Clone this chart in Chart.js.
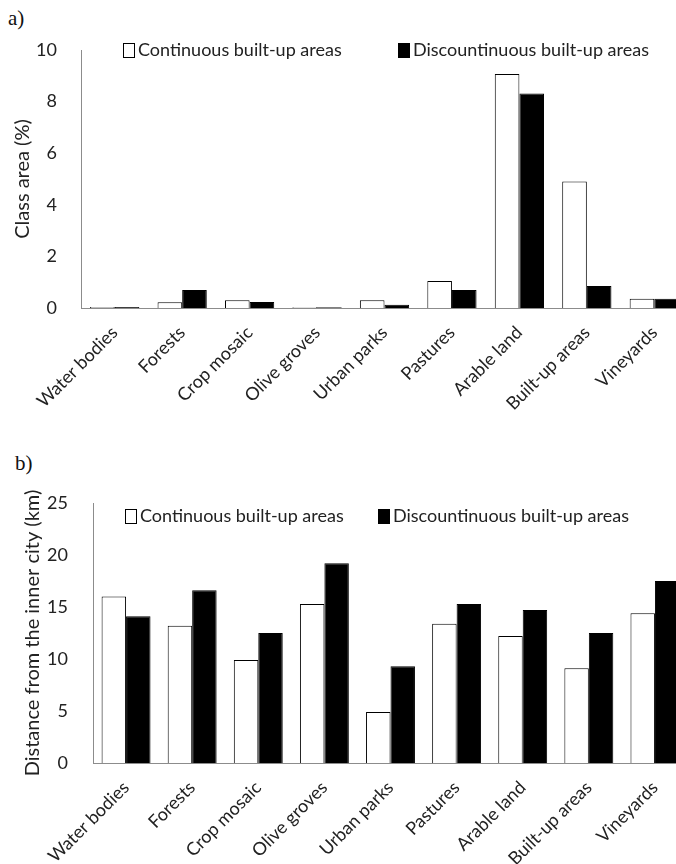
<!DOCTYPE html>
<html>
<head>
<meta charset="utf-8">
<script src="https://cdn.jsdelivr.net/npm/chart.js@4.4.1/dist/chart.umd.min.js"></script>
<style>
  html, body { margin: 0; padding: 0; background: #fff; overflow: hidden; }
  body { width: 676px; height: 864px; position: relative; }
  .panel { position: absolute; left: 0; }
  .tag { position: absolute; font-family: "Liberation Serif", serif; font-size: 21px; color: #111; line-height: 1; }
</style>
</head>
<body>
<div class="tag" style="left:8px;top:8px">a)</div>
<div class="panel" style="top:0"><canvas id="chartA" width="690" height="420"></canvas></div>
<div class="tag" style="left:15px;top:453px">b)</div>
<div class="panel" style="top:420px"><canvas id="chartB" width="690" height="444"></canvas></div>
<script>
// land cover classes
const categories = ['Water bodies', 'Forests', 'Crop mosaic', 'Olive groves', 'Urban parks',
  'Pastures', 'Arable land', 'Built-up areas', 'Vineyards'];
const seriesNames = ['Continuous built-up areas', 'Discountinuous built-up areas'];

// a) class area (%)
const areaContinuous = [0.04, 0.22, 0.30, 0.03, 0.30, 1.05, 9.07, 4.90, 0.36];
const areaDiscontinuous = [0.04, 0.70, 0.23, 0.03, 0.13, 0.70, 8.31, 0.85, 0.36];
const areaTicks = [0, 2, 4, 6, 8, 10];

// b) distance from the inner city (km)
const distContinuous = [16.0, 13.2, 9.9, 15.3, 4.9, 13.4, 12.2, 9.1, 14.4];
const distDiscontinuous = [14.1, 16.6, 12.5, 19.2, 9.3, 15.3, 14.7, 12.5, 17.5];
const distTicks = [0, 5, 10, 15, 20, 25];

const FONT = 'Lato, "Open Sans", sans-serif';
const TEXT = '#222';

// legend drawn inside the plot area, like the original
const insideLegend = {
  id: 'insideLegend',
  afterDraw(chart, args, opts) {
    const ctx = chart.ctx;
    const area = chart.chartArea;
    ctx.save();
    ctx.font = '18px ' + FONT;
    ctx.textBaseline = 'middle';
    const y = area.top + opts.offsetY;
    chart.data.datasets.forEach((ds, i) => {
      const x = area.left + opts.itemX[i];
      ctx.fillStyle = ds.backgroundColor;
      ctx.fillRect(x, y - 7, 12, 15);
      ctx.strokeStyle = '#000';
      ctx.lineWidth = 1;
      ctx.strokeRect(x + 0.5, y - 6.5, 11, 14);
      ctx.fillStyle = TEXT;
      ctx.fillText(ds.label, x + 15, y);
    });
    ctx.restore();
  }
};

function makeChart(id, cont, disc, ticks, title, geo) {
  return new Chart(document.getElementById(id), {
    type: 'bar',
    data: {
      labels: categories,
      datasets: [
        { label: seriesNames[0], data: cont, backgroundColor: '#ffffff', borderColor: '#000', borderWidth: 1 },
        { label: seriesNames[1], data: disc, backgroundColor: '#000000', borderColor: '#000', borderWidth: 1 }
      ]
    },
    options: {
      responsive: false,
      animation: false,
      layout: { padding: { top: geo.top, right: 2, left: 0, bottom: 0 } },
      datasets: { bar: { categoryPercentage: geo.cat, barPercentage: 1 } },
      plugins: {
        legend: { display: false },
        tooltip: { enabled: false },
        insideLegend: { offsetY: geo.legendY, itemX: geo.legendX }
      },
      scales: {
        x: {
          grid: { display: false },
          border: { display: true, color: '#8c8c8c', width: 1 },
          ticks: {
            minRotation: 45, maxRotation: 45, padding: 6,
            color: TEXT, font: { family: FONT, size: 18 }
          },
          afterFit(scale) { scale.height = geo.xHeight; }
        },
        y: {
          min: ticks[0], max: ticks[ticks.length - 1],
          afterBuildTicks(scale) { scale.ticks = ticks.map(v => ({ value: v })); },
          grid: { display: false },
          border: { display: true, color: '#8c8c8c', width: 1 },
          ticks: { padding: geo.tickPad, color: TEXT, font: { family: FONT, size: 18 } },
          title: {
            display: true, text: title, color: TEXT,
            font: { family: FONT, size: 20 },
            padding: { top: geo.titlePad, bottom: 0 }
          },
          afterFit(scale) { scale.width = geo.yWidth; }
        }
      }
    },
    plugins: [insideLegend]
  });
}

makeChart('chartA', areaContinuous, areaDiscontinuous, areaTicks, 'Class area (%)', {
  top: 50, xHeight: 112, yWidth: 81, cat: 0.73, tickPad: 16, titlePad: 11,
  legendY: 0, legendX: [42, 317]
});

makeChart('chartB', distContinuous, distDiscontinuous, distTicks, 'Distance from the inner city (km)', {
  top: 83, xHeight: 101, yWidth: 93, cat: 0.74, tickPad: 17, titlePad: 21,
  legendY: 13, legendX: [32, 285]
});
</script>
</body>
</html>
